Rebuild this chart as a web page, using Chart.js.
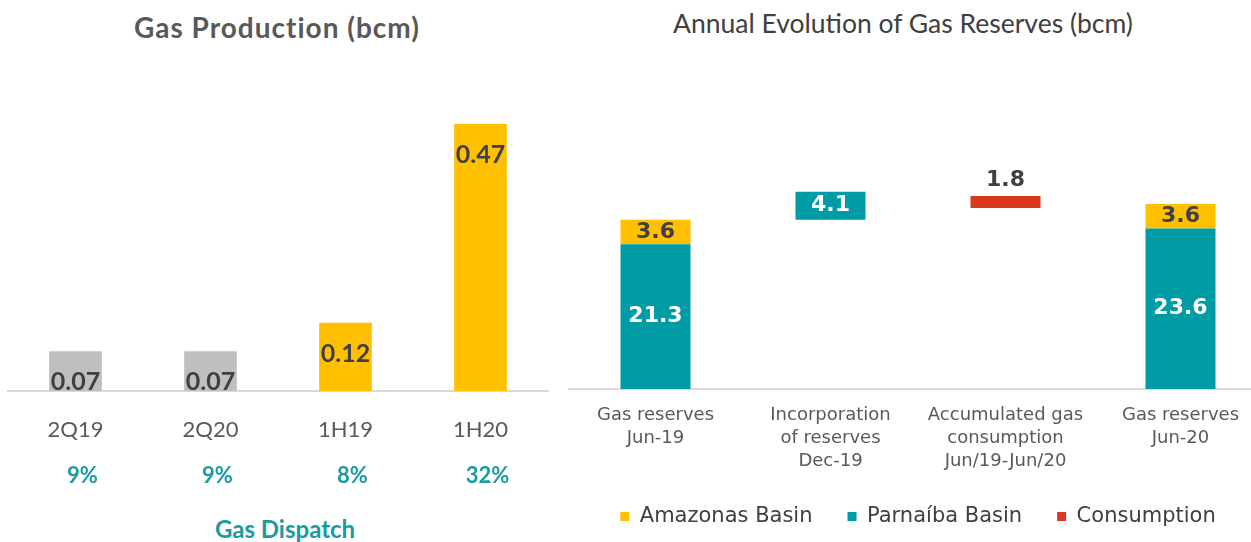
<!DOCTYPE html>
<html><head><meta charset="utf-8">
<script src="https://cdn.jsdelivr.net/npm/chart.js@4/dist/chart.umd.min.js"></script>
<style>
html,body{margin:0;padding:0;background:#fff;overflow:hidden;}
#wrap{position:relative;width:1251px;height:542px;overflow:hidden;background:#fff;}
canvas{position:absolute;top:0;}
#c1{left:0;}
#c2{left:568px;}
.t{position:absolute;white-space:nowrap;text-align:center;}
</style></head><body>
<div id="wrap">
<div class="t" style="left:0;width:554px;top:10px;font:bold 28px Lato, sans-serif;letter-spacing:1px;color:#595959;">Gas Production (bcm)</div>
<div class="t" style="left:568px;width:670px;top:7px;font:26.5px Lato, sans-serif;color:#404040;">Annual Evolution of Gas Reserves (bcm)</div>
<div class="t" style="left:0;width:570px;top:514px;font:bold 24px Lato, sans-serif;color:#1a9ba1;">Gas Dispatch</div>
<canvas id="c1" width="560" height="542" style="width:560px;height:542px"></canvas>
<canvas id="c2" width="700" height="542" style="width:700px;height:542px"></canvas>
</div>
<script>
// ---- Left chart data ----
const prodCategories = ['2Q19', '2Q20', '1H19', '1H20'];
const prodValues = [0.07, 0.07, 0.12, 0.47];
const dispatchShares = ['9%', '9%', '8%', '32%'];

// ---- Right chart data ----
const reserveCategories = [
  ['Gas reserves', 'Jun-19'],
  ['Incorporation', 'of reserves', 'Dec-19'],
  ['Accumulated gas', 'consumption', 'Jun/19-Jun/20'],
  ['Gas reserves', 'Jun-20']
];
const waterfallBase = [0, 24.9, 26.6, 0];
const parnaibaValues = [21.3, 4.1, null, 23.6];
const amazonasValues = [3.6, null, null, 3.6];
const consumptionValues = [null, null, 1.8, null];
const legendOrder = ['Amazonas Basin', 'Parnaíba Basin', 'Consumption'];

const GRAY = '#bfbfbf', GOLD = '#ffc000', TEAL = '#009ca6', RED = '#d8391f';
const DARK = '#404040', TEAL_TXT = '#1a9ba1';

const valueLabels = {
  id: 'valueLabels',
  afterDatasetsDraw(chart) {
    const ctx = chart.ctx;
    chart.data.datasets.forEach((ds, di) => {
      const st = ds.labelStyle;
      if (!st) return;
      const meta = chart.getDatasetMeta(di);
      meta.data.forEach((bar, i) => {
        const v = ds.data[i];
        if (v === null || v === undefined) return;
        let y;
        if (st.pos === 'insideEnd') y = bar.y + 31;
        else if (st.pos === 'above') y = bar.y - 16;
        else y = (bar.y + bar.base) / 2;
        ctx.save();
        ctx.font = st.font;
        ctx.fillStyle = st.color;
        ctx.textAlign = 'center';
        ctx.textBaseline = 'middle';
        ctx.fillText(st.fmt(v), bar.x, y);
        ctx.restore();
      });
    });
  }
};

const dispatchRow = {
  id: 'dispatchRow',
  afterDraw(chart) {
    const ctx = chart.ctx;
    const xs = chart.scales.x;
    ctx.save();
    ctx.font = 'bold 22px Lato, sans-serif';
    ctx.fillStyle = TEAL_TXT;
    ctx.textAlign = 'center';
    ctx.textBaseline = 'middle';
    dispatchShares.forEach((s, i) => ctx.fillText(s, xs.getPixelForValue(i) + 7, 476));
    ctx.restore();
  }
};

function draw() {
  new Chart(document.getElementById('c1'), {
    type: 'bar',
    data: {
      labels: prodCategories,
      datasets: [{
        data: prodValues,
        backgroundColor: ctx => prodCategories[ctx.dataIndex].startsWith('2Q') ? GRAY : GOLD,
        categoryPercentage: 1,
        barPercentage: 0.39,
        labelStyle: { pos: 'insideEnd', font: 'bold 25px Lato, sans-serif', color: DARK, fmt: v => v.toFixed(2) }
      }]
    },
    options: {
      responsive: false, animation: false,
      layout: { padding: { left: 8, right: 12, top: 107, bottom: 0 } },
      plugins: { legend: { display: false }, tooltip: { enabled: false } },
      scales: {
        x: {
          grid: { display: false, drawTicks: false },
          border: { display: true, color: '#d9d9d9', width: 2 },
          ticks: { font: { family: 'Lato', size: 22 }, color: '#595959', padding: 26 },
          afterFit(s) { s.height = 151; }
        },
        y: { display: false, min: 0, max: 0.5 }
      }
    },
    plugins: [valueLabels, dispatchRow]
  });

  const lblFont = 'bold 22px "DejaVu Sans", sans-serif';
  new Chart(document.getElementById('c2'), {
    type: 'bar',
    data: {
      labels: reserveCategories,
      datasets: [
        { label: 'base', data: waterfallBase, backgroundColor: 'rgba(0,0,0,0)' },
        { label: 'Parnaíba Basin', data: parnaibaValues, backgroundColor: TEAL,
          labelStyle: { pos: 'center', font: lblFont, color: '#ffffff', fmt: v => v.toFixed(1) } },
        { label: 'Amazonas Basin', data: amazonasValues, backgroundColor: GOLD,
          labelStyle: { pos: 'center', font: lblFont, color: DARK, fmt: v => v.toFixed(1) } },
        { label: 'Consumption', data: consumptionValues, backgroundColor: RED,
          labelStyle: { pos: 'above', font: lblFont, color: DARK, fmt: v => v.toFixed(1) } }
      ]
    },
    options: {
      responsive: false, animation: false,
      datasets: { bar: { categoryPercentage: 1, barPercentage: 0.4 } },
      layout: { padding: { left: 0, right: 0, top: 185, bottom: 5 } },
      plugins: {
        tooltip: { enabled: false },
        legend: {
          position: 'bottom',
          labels: {
            filter: item => item.text !== 'base',
            sort: (a, b) => legendOrder.indexOf(a.text) - legendOrder.indexOf(b.text),
            boxWidth: 9, boxHeight: 9, padding: 35,
            font: { family: 'DejaVu Sans', size: 21 }, color: DARK
          }
        }
      },
      scales: {
        x: {
          stacked: true,
          grid: { display: false, drawTicks: false },
          border: { display: true, color: '#d9d9d9', width: 2 },
          ticks: { font: { family: 'DejaVu Sans', size: 18, lineHeight: 1.28 }, color: '#595959', padding: 15, maxRotation: 0, autoSkip: false },
          afterFit(s) { s.height = 82; }
        },
        y: { display: false, stacked: true, min: 0, max: 30 }
      }
    },
    plugins: [valueLabels]
  });
}

if (document.fonts && document.fonts.load) {
  Promise.all([
    document.fonts.load('bold 20px Lato'), document.fonts.load('20px Lato'),
    document.fonts.load('20px "DejaVu Sans"'), document.fonts.load('bold 20px "DejaVu Sans"')
  ]).then(draw, draw);
} else draw();
</script>
</body></html>
